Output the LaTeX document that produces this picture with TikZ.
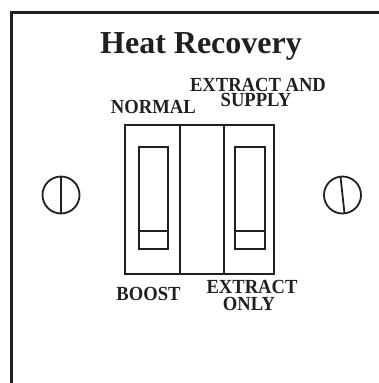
\documentclass[tikz,border=0pt]{standalone}
\usepackage{fontspec}
\setmainfont{Liberation Serif}
\newfontfamily\panelfont[FakeStretch=0.93]{Liberation Serif}
\usetikzlibrary{positioning}
\definecolor{panelink}{RGB}{35,31,32}

\begin{document}
\begin{tikzpicture}[x=1bp,y=-1bp,line cap=butt,line join=miter,
  panelline/.style={panelink,line width=2bp},
  switchlabel/.style={panelink,font=\panelfont\bfseries\fontsize{20bp}{24bp}\selectfont,
    inner sep=0pt,anchor=base}]
 \useasboundingbox (0,0) rectangle (379,383);
 % frame of the wall plate
 \draw[panelink,line width=2.8bp] (11.7,383) -- (11.7,12.5) -- (379,12.5);
 \node[panelink,font=\bfseries\fontsize{32bp}{38bp}\selectfont,inner sep=0pt,anchor=base]
  (title) at (201,53) {Heat Recovery};
 % rocker switches
 \draw[panelline] (125,125) rectangle (274,274);
 \draw[panelline] (180.3,125) -- (180.3,274);
 \draw[panelline] (223.7,125) -- (223.7,274);
 \draw[panelline] (138.5,146.7) rectangle (168,249);
 \draw[panelline] (138.5,231.3) -- (168,231.3);
 \draw[panelline] (235,146.7) rectangle (265,249);
 \draw[panelline] (235,231.3) -- (265,231.3);
 % fixing screws
 \draw[panelink,line width=1.8bp] (61,195) circle (18.5);
 \draw[panelink,line width=1.8bp] (61,176.5) -- (61,213.5);
 \draw[panelink,line width=1.8bp] (342.5,195) circle (18.5);
 \draw[panelink,line width=1.8bp] (340.5,176.6) -- (344.5,213.4);
 % switch positions
 \node[switchlabel] (normal) at (153.3,113.3) {NORMAL};
 \node[switchlabel] (extractand) at (258,91.7) {EXTRACT AND};
 \node[switchlabel] (supply) at (256,106.7) {SUPPLY};
 \node[switchlabel] (boost) at (148.5,300) {BOOST};
 \node[switchlabel] (extract) at (252,293.3) {EXTRACT};
 \node[switchlabel] (only) at (249,310) {ONLY};
\end{tikzpicture}
\end{document}
